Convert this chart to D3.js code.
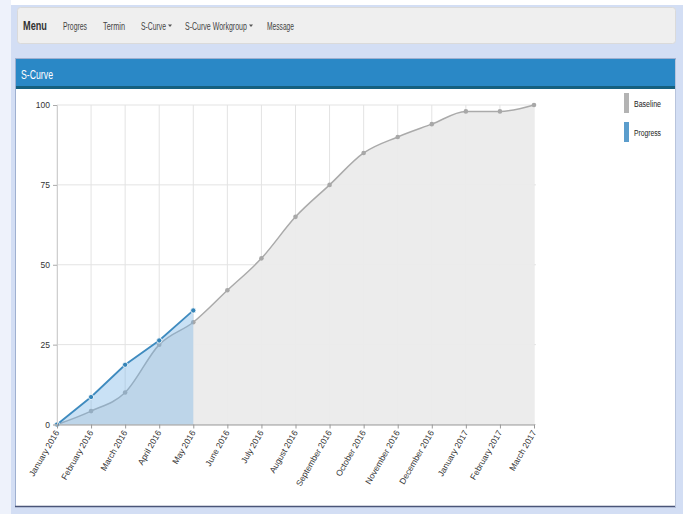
<!DOCTYPE html>
<html>
<head>
<meta charset="utf-8">
<script src="https://cdn.jsdelivr.net/npm/d3@7"></script>
<style>
  html, body { margin: 0; padding: 0; background: #fff; }
  svg { display: block; }
  .narrow { font-family: "Liberation Sans", Arial, sans-serif; }
  .tick text { font-family: "Liberation Sans", Arial, sans-serif; }
</style>
</head>
<body>
<div id="chart"></div>
<script>
const months = ['January 2016', 'February 2016', 'March 2016', 'April 2016', 'May 2016', 'June 2016',
  'July 2016', 'August 2016', 'September 2016', 'October 2016', 'November 2016', 'December 2016',
  'January 2017', 'February 2017', 'March 2017'];
const baseline = [0, 4.2, 10, 25, 32, 42, 52, 65, 75, 85, 90, 94, 98, 98, 100];
const progress = [0, 8.6, 18.7, 26.3, 35.7];
const yTicks = [0, 25, 50, 75, 100];
// condensed font is not installed, so each label gets its width from the picture
const menuItems = [
  { label: 'Progres', x: 63, w: 24, caret: false },
  { label: 'Termin', x: 103, w: 22, caret: false },
  { label: 'S-Curve', x: 141, w: 25, caret: true },
  { label: 'S-Curve Workgroup', x: 185, w: 62, caret: true },
  { label: 'Message', x: 267, w: 27, caret: false }
];
const legendItems = [
  { label: 'Baseline', color: '#b3b3b3', w: 27 },
  { label: 'Progress', color: '#5b9dcc', w: 27 }
];

const W = 683, H = 514;
const svg = d3.select('#chart').append('svg')
  .attr('width', W).attr('height', H);

// squeeze a text horizontally to width w, starting at (x, y)
function narrowText(parent, str, x, y, w, size, fill, weight) {
  const t = parent.append('text').attr('class', 'narrow')
    .attr('font-size', size).attr('fill', fill)
    .attr('font-weight', weight || 'normal').text(str);
  const sx = w / t.node().getComputedTextLength();
  t.attr('transform', `translate(${x},${y}) scale(${sx},1)`);
  return t;
}

// page background
svg.append('rect').attr('x', 11).attr('y', 5).attr('width', W - 11).attr('height', H - 5)
  .attr('fill', '#d3def4');
svg.append('rect').attr('x', 0).attr('y', 0).attr('width', 11).attr('height', H).attr('fill', '#eef2fb');

// navbar
svg.append('rect').attr('x', 17.5).attr('y', 7.5).attr('width', 658).attr('height', 36).attr('rx', 3)
  .attr('fill', '#efefef').attr('stroke', '#dadada');
narrowText(svg, 'Menu', 23, 30, 24, 12, '#333', 'bold');
menuItems.forEach(d => {
  narrowText(svg, d.label, d.x, 29.5, d.w, 10, '#444');
  if (d.caret) {
    svg.append('path').attr('d', `M${d.x + d.w + 2},24.5h4l-2,2.5z`).attr('fill', '#555');
  }
});

// panel
svg.append('rect').attr('x', 15.5).attr('y', 58.5).attr('width', 660).attr('height', 448)
  .attr('fill', '#fff').attr('stroke', '#9fb0d0');
svg.append('line').attr('x1', 15).attr('x2', 676).attr('y1', 506.5).attr('y2', 506.5)
  .attr('stroke', '#4a5578').attr('stroke-width', 1.5);
svg.append('line').attr('x1', 675.5).attr('x2', 675.5).attr('y1', 60).attr('y2', 507)
  .attr('stroke', '#b8c4dc');
svg.append('rect').attr('x', 16).attr('y', 59).attr('width', 659).attr('height', 29)
  .attr('fill', '#2a88c6');
svg.append('rect').attr('x', 16).attr('y', 86).attr('width', 659).attr('height', 3)
  .attr('fill', '#15607f');
narrowText(svg, 'S-Curve', 21, 79, 32, 12, '#fff');

// chart
const x = d3.scalePoint().domain(months).range([57, 534]);
const y = d3.scaleLinear().domain([0, 100]).range([424.5, 105]);

const g = svg.append('g');

// grid
g.selectAll('.vgrid').data(months).enter().append('line')
  .attr('x1', d => x(d)).attr('x2', d => x(d))
  .attr('y1', y(100)).attr('y2', y(0))
  .attr('stroke', '#e3e3e3');
g.selectAll('.hgrid').data(yTicks).enter().append('line')
  .attr('x1', x(months[0])).attr('x2', x(months[months.length - 1]) + 2)
  .attr('y1', d => y(d)).attr('y2', d => y(d))
  .attr('stroke', '#e3e3e3');

const bData = months.map((m, i) => ({ m, v: baseline[i] }));
const pData = progress.map((v, i) => ({ m: months[i], v }));

const bArea = d3.area().curve(d3.curveMonotoneX)
  .x(d => x(d.m)).y0(y(0)).y1(d => y(d.v));
const bLine = d3.line().curve(d3.curveMonotoneX)
  .x(d => x(d.m)).y(d => y(d.v));
const pArea = d3.area().x(d => x(d.m)).y0(y(0)).y1(d => y(d.v));
const pLine = d3.line().x(d => x(d.m)).y(d => y(d.v));

g.append('path').datum(bData).attr('d', bArea).attr('fill', '#ebebeb').attr('fill-opacity', 0.95);
g.append('path').datum(bData).attr('d', bLine).attr('fill', 'none')
  .attr('stroke', '#aaaaaa').attr('stroke-width', 1.5);
g.selectAll('.bpt').data(bData).enter().append('circle')
  .attr('cx', d => x(d.m)).attr('cy', d => y(d.v)).attr('r', 2.3)
  .attr('fill', '#a8a8a8');

g.append('path').datum(pData).attr('d', pArea).attr('fill', 'rgb(120,180,230)').attr('fill-opacity', 0.4);
g.append('path').datum(pData).attr('d', pLine).attr('fill', 'none')
  .attr('stroke', '#3f8bbf').attr('stroke-width', 1.8);
g.selectAll('.ppt').data(pData).enter().append('circle')
  .attr('cx', d => x(d.m)).attr('cy', d => y(d.v)).attr('r', 2.6)
  .attr('fill', '#3584b8').attr('stroke', '#fff').attr('stroke-width', 0.8);

// axes
const yAxis = g.append('g').attr('transform', `translate(${x(months[0])},0)`)
  .call(d3.axisLeft(y).tickValues(yTicks).tickSize(4).tickPadding(3));
yAxis.select('.domain').attr('stroke', '#cfcfcf');
yAxis.selectAll('.tick line').attr('stroke', '#aaa');
yAxis.selectAll('.tick text').attr('font-size', 8.5).attr('fill', '#333');

const xAxis = g.append('g').attr('transform', `translate(0,${y(0)})`)
  .call(d3.axisBottom(x).tickSize(4).tickSizeOuter(0));
xAxis.select('.domain').attr('stroke', '#999');
xAxis.selectAll('.tick line').attr('stroke', '#999');
xAxis.selectAll('.tick text')
  .attr('font-size', 8.5).attr('fill', '#333')
  .attr('text-anchor', 'end')
  .attr('dy', 0)
  .attr('transform', 'translate(2,8) rotate(-60)')
  .attr('y', 0).attr('x', 0);

// legend
const legend = svg.append('g').attr('transform', 'translate(624,93)');
legendItems.forEach((d, i) => {
  legend.append('rect').attr('x', 0).attr('y', i * 29).attr('width', 5).attr('height', 20)
    .attr('fill', d.color);
  narrowText(legend, d.label, 10, i * 29 + 14, d.w, 9.5, '#222');
});
</script>
</body>
</html>
